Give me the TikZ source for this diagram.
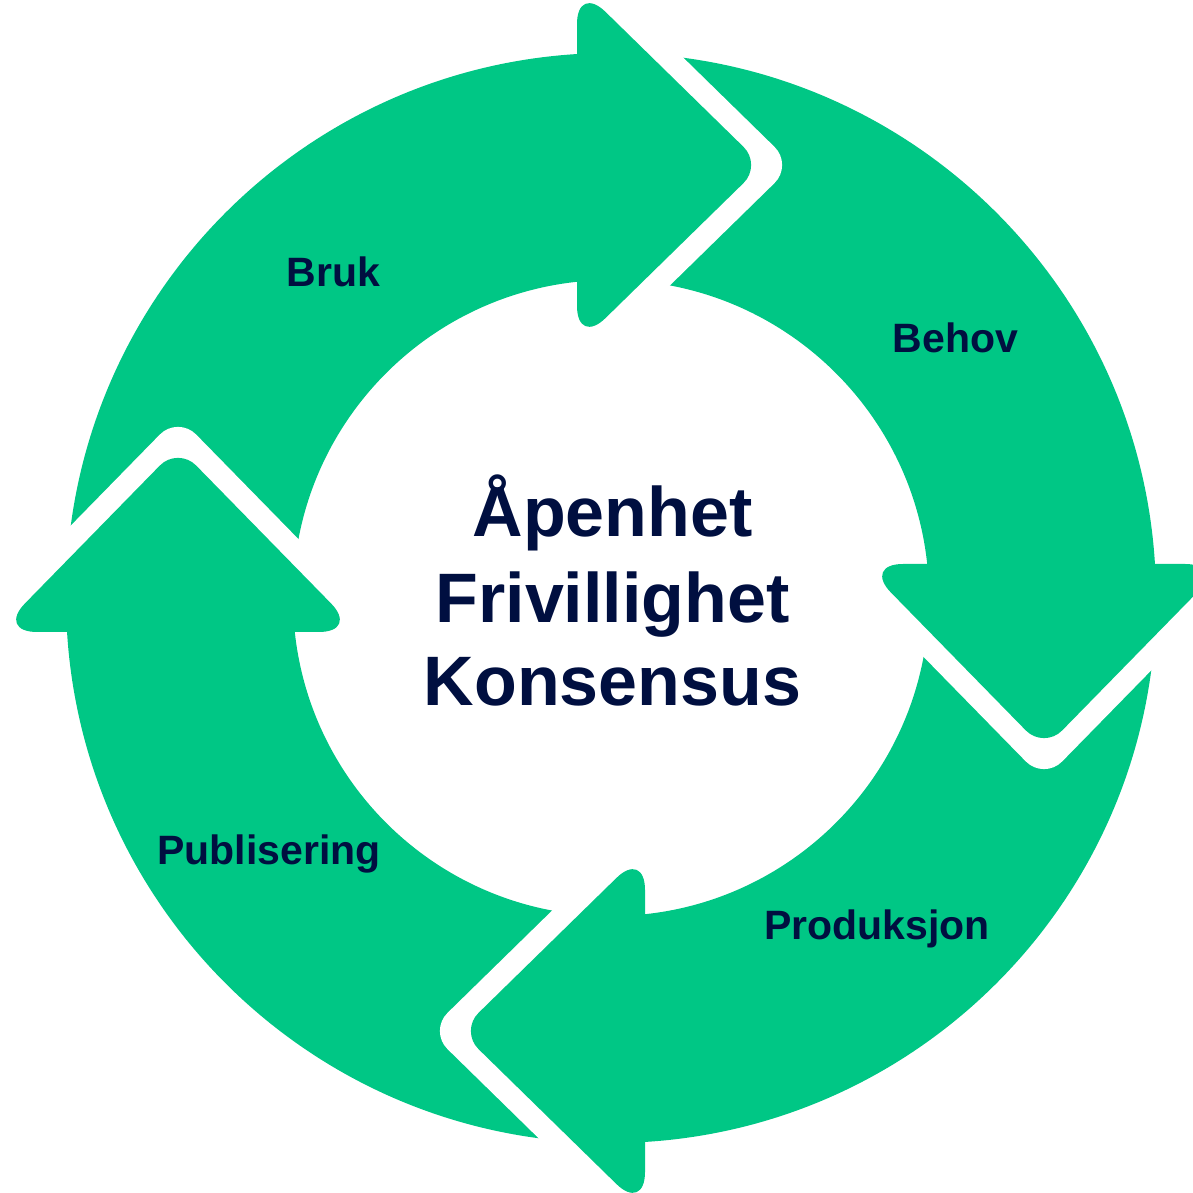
\documentclass[tikz,border=0pt]{standalone}
\usepackage{fontspec}
\setmainfont{Liberation Sans}
\definecolor{cyclegreen}{RGB}{0,199,133}
\definecolor{navytext}{RGB}{0,15,64}
\begin{document}
\begin{tikzpicture}[x=1pt,y=1pt,
  lbl/.style={font=\bfseries\fontsize{41}{49}\selectfont, text=navytext, inner sep=0pt, anchor=base},
  ctr/.style={font=\bfseries\fontsize{70}{84}\selectfont, text=navytext, inner sep=0pt, anchor=base},
  head/.style={fill=cyclegreen},
  notch/.style={fill=white}]
\useasboundingbox (0,0) rectangle (1192,1193);
\coordinate (C) at (611,595);
% ring
\fill[cyclegreen, even odd rule] (C) circle[radius=545] (C) circle[radius=318];
% arrowheads with white gap (notch of the following segment)
\foreach \r in {0,-90,-180,-270}{
  \begin{scope}[shift={(C)}, rotate=\r]
    \begin{scope}[xshift=31pt]
      \fill[notch] (-34,574) .. controls (-34,596.1) and (-21.2,601.5) .. (-5.4,586.0)
        -- (132.4,451.2) .. controls (142.7,441.2) and (142.7,424.8) .. (132.4,414.8)
        -- (-5.4,280) .. controls (-21.2,264.5) and (-34,269.9) .. (-34,292) -- cycle;
    \end{scope}
    \fill[head] (-34,574) .. controls (-34,596.1) and (-21.2,601.5) .. (-5.4,586.0)
      -- (132.4,451.2) .. controls (142.7,441.2) and (142.7,424.8) .. (132.4,414.8)
      -- (-5.4,280) .. controls (-21.2,264.5) and (-34,269.9) .. (-34,292) -- cycle;
  \end{scope}
}
% labels
\node[lbl] (bruk) at (333.5,906) {Bruk};
\node[lbl] (behov) at (955.5,840) {Behov};
\node[lbl] (produksjon) at (877,253) {Produksjon};
\node[lbl] (publisering) at (269,328) {Publisering};
% centre text
\node[ctr] (apenhet) at (612.5,656) {Åpenhet};
\node[ctr] (frivillighet) at (612.5,570) {Frivillighet};
\node[ctr] (konsensus) at (612.5,487) {Konsensus};
\end{tikzpicture}
\end{document}
